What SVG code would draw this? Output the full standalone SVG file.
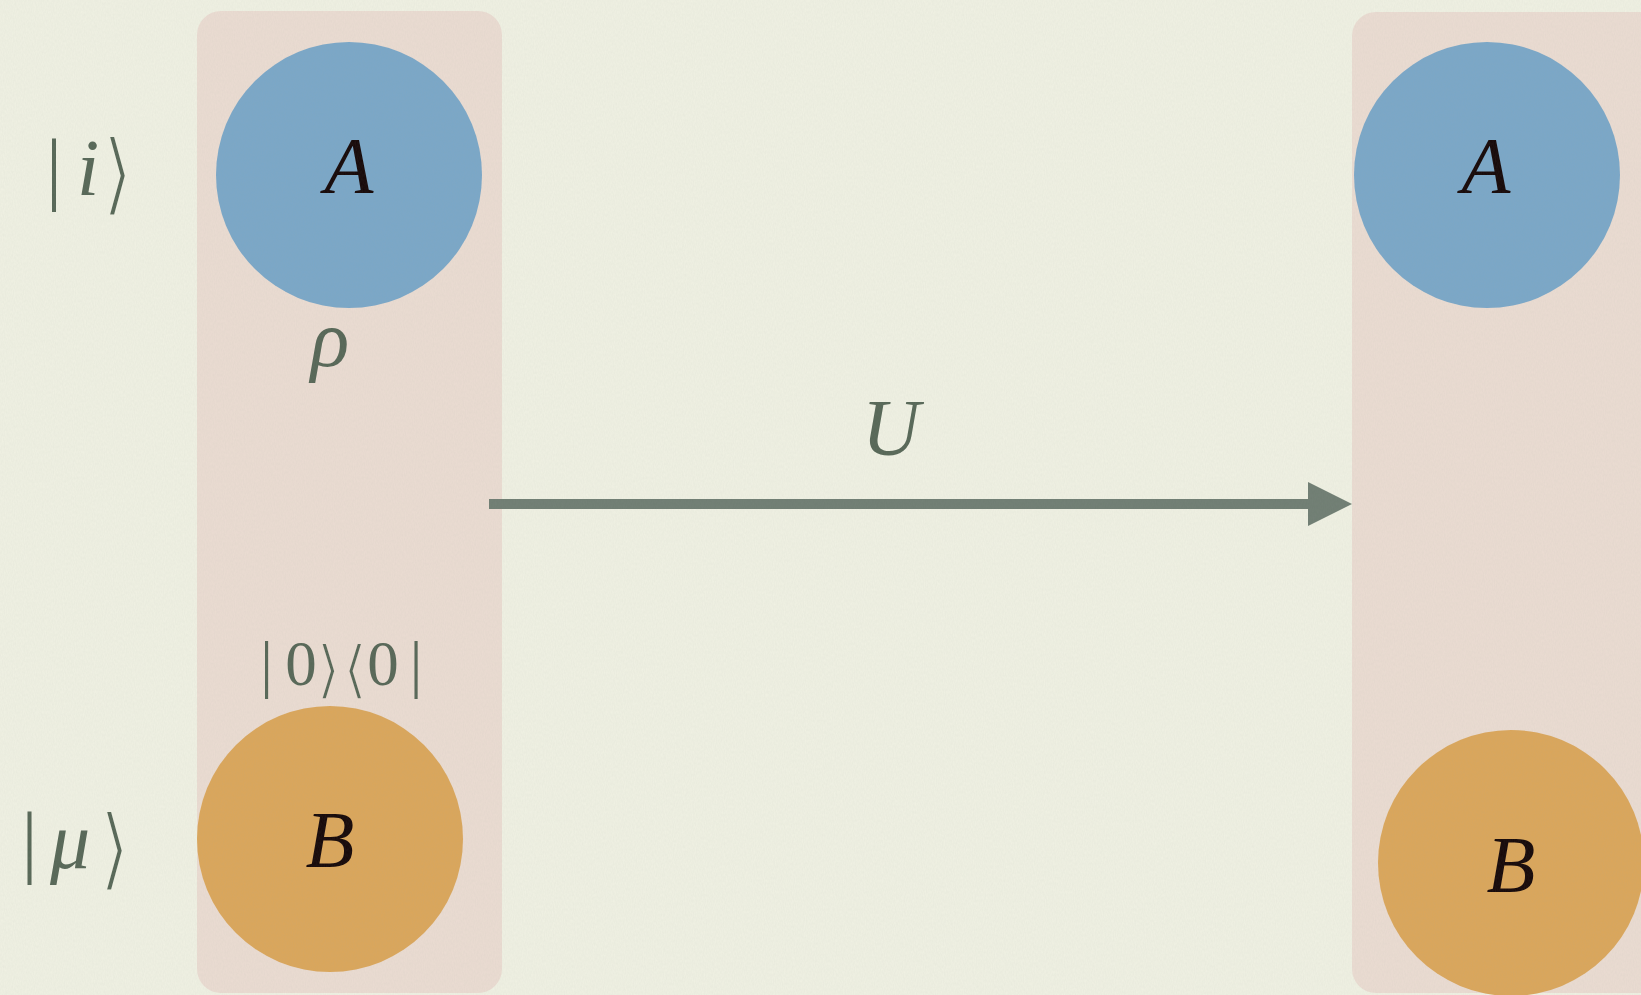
<svg xmlns="http://www.w3.org/2000/svg" width="1641" height="995" viewBox="0 0 1641 995">
<defs>
<marker id="ah" markerUnits="userSpaceOnUse" markerWidth="46" markerHeight="44" refX="0" refY="22" orient="auto">
<path d="M0,0 L44,22 L0,44 Z" fill="#6f7d72"/>
</marker>
<filter id="tex" x="0" y="0" width="100%" height="100%">
<feTurbulence type="fractalNoise" baseFrequency="0.9 0.35" numOctaves="2" seed="3" result="n"/>
<feColorMatrix in="n" type="matrix" values="0 0 0 0 0.35  0 0 0 0 0.38  0 0 0 0 0.35  0 0 0 0.1 0" result="c"/>
<feComposite in="c" in2="SourceGraphic" operator="in"/>
</filter>
</defs>
<rect x="0" y="0" width="1641" height="995" fill="#f0f1e3"/>
<g id="panel-left">
<rect x="197" y="11" width="305" height="982" rx="24" fill="#ebdcd2"/>
</g>
<g id="panel-right">
<rect x="1352" y="12" width="330" height="981" rx="24" fill="#ebdcd2"/>
</g>
<g id="connectors">
<line x1="489" y1="504" x2="1308" y2="504" stroke="#6f7d72" stroke-width="10" marker-end="url(#ah)"/>
<text x="891" y="455" text-anchor="middle" font-family="Liberation Serif" font-style="italic" font-size="80" fill="#566656">U</text>
</g>
<g id="node-A-left">
<circle cx="349" cy="175" r="133" fill="#7aa7c8"/>
<text x="349" y="193" text-anchor="middle" font-family="Liberation Serif" font-style="italic" font-size="80" fill="#140606">A</text>
</g>
<g id="node-B-left">
<circle cx="330" cy="839" r="133" fill="#dba65a"/>
<text x="330" y="867" text-anchor="middle" font-family="Liberation Serif" font-style="italic" font-size="80" fill="#140606">B</text>
</g>
<g id="node-A-right">
<circle cx="1487" cy="175" r="133" fill="#7aa7c8"/>
<text x="1486" y="193" text-anchor="middle" font-family="Liberation Serif" font-style="italic" font-size="80" fill="#140606">A</text>
</g>
<g id="node-B-right">
<circle cx="1511" cy="863" r="133" fill="#dba65a"/>
<text x="1511" y="892" text-anchor="middle" font-family="Liberation Serif" font-style="italic" font-size="80" fill="#140606">B</text>
</g>
<g id="label-ket-i">
<text x="54" y="195" text-anchor="middle" font-family="Liberation Serif" font-size="80" fill="#566656">|</text>
<text x="88" y="195" text-anchor="middle" font-family="Liberation Serif" font-style="italic" font-size="80" fill="#566656">i</text>
<text x="0" y="0" text-anchor="middle" font-family="DejaVu Sans" font-size="80" fill="#566656" stroke="#f0f1e3" stroke-width="2.5" transform="translate(117.5,204) scale(1,1.13)">⟩</text>
</g>
<g id="label-ket-mu">
<text x="29.5" y="868" text-anchor="middle" font-family="Liberation Serif" font-size="80" fill="#566656">|</text>
<text x="70" y="868" text-anchor="middle" font-family="Liberation Serif" font-style="italic" font-size="80" fill="#566656">μ</text>
<text x="0" y="0" text-anchor="middle" font-family="DejaVu Sans" font-size="80" fill="#566656" stroke="#f0f1e3" stroke-width="2.5" transform="translate(114.5,879) scale(1,1.13)">⟩</text>
</g>
<g id="label-rho">
<text x="330" y="366" text-anchor="middle" font-family="Liberation Serif" font-style="italic" font-size="80" fill="#566656">ρ</text>
</g>
<g id="label-proj">
<text x="266.5" y="685" text-anchor="middle" font-family="Liberation Serif" font-size="63" fill="#566656">|</text>
<text x="301" y="685" text-anchor="middle" font-family="Liberation Serif" font-size="63" fill="#566656">0</text>
<text x="328.5" y="691" text-anchor="middle" font-family="DejaVu Sans" font-size="63" fill="#566656" stroke="#ebdcd2" stroke-width="2">⟩</text>
<text x="355" y="691" text-anchor="middle" font-family="DejaVu Sans" font-size="63" fill="#566656" stroke="#ebdcd2" stroke-width="2">⟨</text>
<text x="383" y="685" text-anchor="middle" font-family="Liberation Serif" font-size="63" fill="#566656">0</text>
<text x="416" y="685" text-anchor="middle" font-family="Liberation Serif" font-size="63" fill="#566656">|</text>
</g>
<rect x="0" y="0" width="1641" height="995" fill="#fff" filter="url(#tex)"/>
</svg>
